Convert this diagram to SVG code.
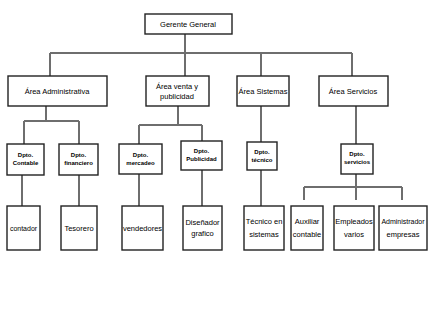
<svg xmlns="http://www.w3.org/2000/svg" width="435" height="309" viewBox="0 0 435 309">
<style>
.box{fill:#fff;stroke:#222;stroke-width:1.4}
.ln{stroke:#6e6e6e;stroke-width:2;fill:none}
text{font-family:"Liberation Sans Narrow","Liberation Sans",Arial,sans-serif;font-size:7.5px;fill:#000;text-anchor:middle}
.d{font-size:6px;font-weight:bold}
.s{font-size:7px}
</style>
<rect width="435" height="309" fill="#fff"/>
<g id="connectors">
<path class="ln" d="M185 34V76M50 53H352M50 53V76M261 53V76M352 53V76"/>
<path class="ln" d="M46 106V121M24 121H79M24 121V144M79 121V144"/>
<path class="ln" d="M178 106V125M139 125H202M139 125V144M202 125V141"/>
<path class="ln" d="M261 106V142M356 106V144"/>
<path class="ln" d="M22 175V206M79 175V206M139 174V206M202 170V206M261 170V206"/>
<path class="ln" d="M356 174V187M304 187H402M304 187V200M356 187V200M402 187V200"/>
</g>
<g id="gerente"><rect class="box" x="145" y="14" width="87" height="20"/><text x="188" y="27">Gerente General</text></g>
<g id="area-admin"><rect class="box" x="8" y="76" width="99" height="30"/><text x="57" y="94">Área Administrativa</text></g>
<g id="area-venta"><rect class="box" x="146" y="76" width="63" height="30"/><text x="177" y="89">Área venta y</text><text x="177" y="99">publicidad</text></g>
<g id="area-sistemas"><rect class="box" x="237" y="76" width="52" height="30"/><text x="263" y="94">Área Sistemas</text></g>
<g id="area-servicios"><rect class="box" x="319" y="76" width="69" height="30"/><text x="353" y="94">Área Servicios</text></g>
<g id="dpto-contable"><rect class="box" x="7" y="144" width="37" height="31"/><text class="d" x="25.5" y="157">Dpto.</text><text class="d" x="25.5" y="165">Contable</text></g>
<g id="dpto-financiero"><rect class="box" x="59" y="144" width="39" height="31"/><text class="d" x="78.5" y="157">Dpto.</text><text class="d" x="78.5" y="165">financiero</text></g>
<g id="dpto-mercadeo"><rect class="box" x="119" y="144" width="43" height="30"/><text class="d" x="140.5" y="157">Dpto.</text><text class="d" x="140.5" y="165">mercadeo</text></g>
<g id="dpto-publicidad"><rect class="box" x="181" y="141" width="41" height="29"/><text class="d" x="201.5" y="153">Dpto.</text><text class="d" x="201.5" y="161">Publicidad</text></g>
<g id="dpto-tecnico"><rect class="box" x="247" y="142" width="30" height="28"/><text class="d" x="262" y="154">Dpto.</text><text class="d" x="262" y="162">técnico</text></g>
<g id="dpto-servicios"><rect class="box" x="341" y="144" width="32" height="30"/><text class="d" x="357" y="156">Dpto.</text><text class="d" x="357" y="164">servicios</text></g>
<g id="contador"><rect class="box" x="7" y="206" width="33" height="44"/><text class="s" x="23.5" y="231">contador</text></g>
<g id="tesorero"><rect class="box" x="61" y="206" width="36" height="44"/><text x="79" y="231">Tesorero</text></g>
<g id="vendedores"><rect class="box" x="122" y="206" width="41" height="44"/><text x="142.5" y="231">vendedores</text></g>
<g id="disenador"><rect class="box" x="183" y="206" width="39" height="44"/><text x="202.5" y="225">Diseñador</text><text x="202.5" y="236">grafico</text></g>
<g id="tecnico"><rect class="box" x="244" y="206" width="40" height="44"/><text x="264" y="224">Técnico en</text><text x="264" y="237">sistemas</text></g>
<g id="auxiliar"><rect class="box" x="291" y="206" width="32" height="44"/><text x="307" y="224">Auxiliar</text><text x="307" y="237">contable</text></g>
<g id="empleados"><rect class="box" x="334" y="206" width="40" height="44"/><text x="354" y="224">Empleados</text><text x="354" y="237">varios</text></g>
<g id="administrador"><rect class="box" x="379" y="206" width="48" height="44"/><text class="s" x="403" y="224">Administrador</text><text x="403" y="237">empresas</text></g>
</svg>
